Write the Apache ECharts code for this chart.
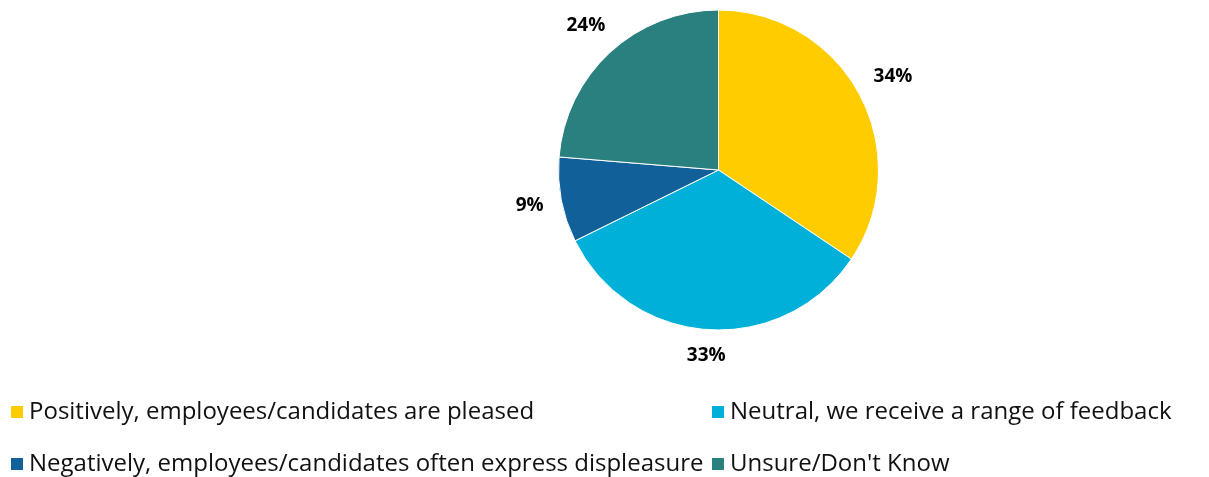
<!DOCTYPE html>
<html><head><meta charset="utf-8">
<script src="https://cdn.jsdelivr.net/npm/echarts@6/dist/echarts.min.js"></script>
<style>html,body{margin:0;padding:0;background:#fff}#c{width:1209px;height:477px}</style>
</head><body><div id="c"></div>
<script>
const categories = ["Positively, employees/candidates are pleased","Neutral, we receive a range of feedback","Negatively, employees/candidates often express displeasure","Unsure/Don't Know"];
const values = [34.4, 33.3, 8.6, 23.7];
const colors = ["#FFCC00","#00B0D8","#126099","#2A7F7F"];
const chart = echarts.init(document.getElementById('c'));
const CX = 718.5, CY = 170, RAD = 160, LABEL_R = 177;
const legendText = {fontFamily:'Open Sans', fontSize:24, lineHeight:26, color:'#111'};
const legendPos = [[9,399],[710,399],[9,451],[710,451]];
chart.setOption({
  animation:false,
  color: colors,
  legend: categories.map((n,i)=>({left:legendPos[i][0], top:legendPos[i][1], padding:0, itemWidth:14, itemHeight:14, icon:'rect', textStyle:legendText, data:[n]})),
  series:[{
    type:'pie', center:[CX,CY], radius:RAD, startAngle:90, clockwise:true,
    itemStyle:{borderColor:'#fff', borderWidth:1},
    label:{show:true, position:'outside', formatter:p=>Math.round(p.value)+'%', fontFamily:'Open Sans', fontWeight:'bold', fontSize:19, color:'#000'},
    labelLine:{show:true, length:10, length2:0, lineStyle:{opacity:0}},
    labelLayout: function(p){
      const pts = p.labelLinePoints;
      if(!pts) return {};
      const dx = pts[0][0]-CX, dy = pts[0][1]-CY;
      const d = Math.sqrt(dx*dx+dy*dy) || 1;
      const ux = dx/d, uy = dy/d;
      const w = p.labelRect.width, h = p.labelRect.height*0.8;
      const ext = Math.abs(ux)*w/2 + Math.abs(uy)*h/2;
      return {x: CX + (LABEL_R+ext)*ux, y: CY + (LABEL_R+ext)*uy, align:'center', verticalAlign:'middle'};
    },
    data: categories.map((n,i)=>({name:n, value:values[i]}))
  }]
});
</script></body></html>
